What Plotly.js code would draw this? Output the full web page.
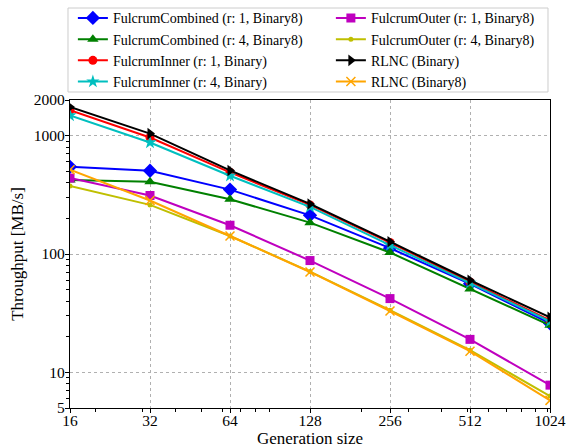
<!DOCTYPE html>
<html><head><meta charset="utf-8">
<script src="https://cdn.plot.ly/plotly-3.0.1.min.js"></script>
<style>body{margin:0;padding:0;background:#fff}#chart{width:567px;height:448px}</style>
</head><body><div id="chart"></div>
<script>
const genSizes = [16, 32, 64, 128, 256, 512, 1024];
const fcR1 = [545, 505, 350, 212, 112, 56, 26];
const fcR4 = [422, 408, 290, 184, 103, 50.5, 25];
const fiR1 = [1640, 965, 490, 260, 125, 58, 27.5];
const fiR4 = [1480, 875, 458, 250, 119, 57, 27];
const foR1 = [438, 312, 175, 88, 42, 19, 7.8];
const foR4 = [375, 260, 142, 71, 33.5, 15.4, 6.3];
const rlncB = [1745, 1040, 508, 265, 127, 60, 29.2];
const rlncB8 = [515, 283, 142, 70.5, 33, 15.1, 5.8];
const names = ["FulcrumCombined (r: 1, Binary8)", "FulcrumCombined (r: 4, Binary8)",
  "FulcrumInner (r: 1, Binary)", "FulcrumInner (r: 4, Binary)",
  "FulcrumOuter (r: 1, Binary8)", "FulcrumOuter (r: 4, Binary8)",
  "RLNC (Binary)", "RLNC (Binary8)"];
const xTickLabels = ["16", "32", "64", "128", "256", "512", "1024"];
const yTickVals = [5, 10, 100, 1000, 2000];
const yTickLabels = ["5", "10", "100", "1000", "2000"];

const series = [fcR1, fcR4, fiR1, fiR4, foR1, foR4, rlncB, rlncB8];
const colors = ["#0000ff", "#008000", "#ff0000", "#00bfbf", "#bf00bf", "#bfbf00", "#000000", "#ffa500"];
const symbols = ["diamond", "triangle-up", "circle", "star", "square", "circle", "triangle-right", "x-thin-open"];
const sizes = [11, 10, 9, 10, 9, 5, 10, 9];
const legendIds = ["legend", "legend", "legend", "legend", "legend2", "legend2", "legend2", "legend2"];

const traces = series.map((s, i) => ({
  x: genSizes, y: s, name: names[i], type: "scatter", mode: "lines+markers",
  line: {color: colors[i], width: 2},
  marker: {color: colors[i], symbol: symbols[i], size: sizes[i],
    line: {color: colors[i], width: symbols[i] === "x-thin-open" ? 1.5 : 0}},
  legend: legendIds[i]
}));

const minorY = [6,7,8,9,20,30,40,50,60,70,80,90,200,300,400,500,600,700,800,900];
const minorX = [20,30,40,50,60,70,80,90,200,300,400,500,600,700,800,900,1000];
const font = {family: "Liberation Serif", color: "#000"};
const legFont = Object.assign({size: 14}, font);

const layout = {
  width: 567, height: 448,
  margin: {l: 70, r: 17, t: 100, b: 40, autoexpand: false},
  paper_bgcolor: "#fff", plot_bgcolor: "#fff",
  font: Object.assign({size: 15}, font),
  showlegend: true,
  legend: {x: 0.006, y: 1.317, xanchor: "left", yanchor: "top", bgcolor: "rgba(0,0,0,0)",
    borderwidth: 0, font: legFont, tracegroupgap: 0, itemwidth: 30},
  legend2: {x: 0.5435, y: 1.317, xanchor: "left", yanchor: "top", bgcolor: "rgba(0,0,0,0)",
    borderwidth: 0, font: legFont, tracegroupgap: 0, itemwidth: 30},
  shapes: [{type: "rect", xref: "paper", yref: "paper", x0: -0.00417, x1: 0.99583, y0: 1.026, y1: 1.2987,
    line: {color: "#cccccc", width: 1}, fillcolor: "rgba(255,255,255,0.8)", layer: "below"}],
  xaxis: {
    type: "log", range: [Math.log10(16), Math.log10(1024)],
    tickmode: "array", tickvals: genSizes, ticktext: xTickLabels,
    ticks: "outside", ticklen: 4, tickcolor: "#000", ticklabelstandoff: -6,
    showline: true, linecolor: "#000", linewidth: 1.2, mirror: true,
    showgrid: true, gridcolor: "#b0b0b0", griddash: "dot", gridwidth: 1,
    zeroline: false,
    minor: {tickmode: "array", tickvals: minorX, ticks: "outside", ticklen: 2.5, tickcolor: "#000", showgrid: false},
    title: {text: "Generation size", font: Object.assign({size: 17}, font), standoff: 0},
    tickfont: Object.assign({size: 15.5}, font)
  },
  yaxis: {
    type: "log", range: [Math.log10(5), Math.log10(2000)],
    tickmode: "array", tickvals: yTickVals, ticktext: yTickLabels,
    ticks: "outside", ticklen: 4, tickcolor: "#000", ticklabelstandoff: -3,
    showline: true, linecolor: "#000", linewidth: 1.2, mirror: true,
    showgrid: true, gridcolor: "#b0b0b0", griddash: "dot", gridwidth: 1,
    zeroline: false,
    minor: {tickmode: "array", tickvals: minorY, ticks: "outside", ticklen: 2.5, tickcolor: "#000", showgrid: false},
    title: {text: "Throughput [MB/s]", font: Object.assign({size: 17}, font), standoff: 5},
    tickfont: Object.assign({size: 15.5}, font)
  }
};
Plotly.newPlot("chart", traces, layout, {displayModeBar: false, staticPlot: true});
</script></body></html>
